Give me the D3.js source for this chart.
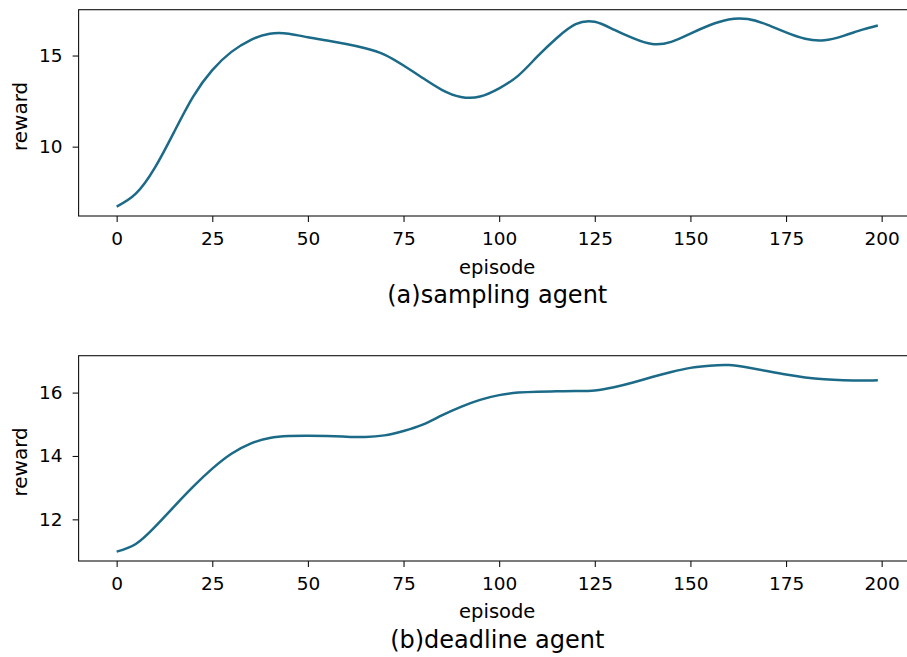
<!DOCTYPE html>
<html>
<head>
<meta charset="utf-8">
<script src="https://cdn.jsdelivr.net/npm/d3@7"></script>
<style>
  html, body { margin: 0; padding: 0; background: #fff; }
  svg { display: block; font-family: "DejaVu Sans", sans-serif; }
</style>
</head>
<body>
<svg id="fig" width="907" height="657"></svg>
<script>
// Episodes at which the smoothed reward curves were sampled
const episodes = [0, 5, 10, 15, 20, 25, 30, 35, 40, 45, 50, 55, 60, 65, 70, 75, 80, 85, 90, 95,
  100, 105, 110, 115, 120, 125, 130, 135, 140, 145, 150, 155, 160, 165, 170, 175, 180, 185, 190, 195, 199];

// (a) sampling agent reward
const samplingReward = [6.71, 7.42, 8.85, 10.8, 12.75, 14.2, 15.2, 15.85, 16.2, 16.2, 16.0, 15.82, 15.63, 15.4, 15.05, 14.45, 13.77, 13.12, 12.73, 12.75,
  13.2, 13.9, 14.95, 15.95, 16.72, 16.85, 16.42, 15.95, 15.63, 15.75, 16.2, 16.66, 16.98, 17.0, 16.7, 16.27, 15.92, 15.84, 16.08, 16.42, 16.65];

// (b) deadline agent reward
const deadlineReward = [10.98, 11.22, 11.76, 12.4, 13.03, 13.6, 14.07, 14.39, 14.57, 14.63, 14.64, 14.63, 14.61, 14.6, 14.65, 14.79, 14.99, 15.28, 15.55, 15.77,
  15.92, 16.0, 16.03, 16.04, 16.05, 16.07, 16.17, 16.32, 16.49, 16.65, 16.78, 16.85, 16.87, 16.79, 16.68, 16.57, 16.48, 16.42, 16.39, 16.38, 16.39];

const xTicks = [0, 25, 50, 75, 100, 125, 150, 175, 200];
const samplingYTicks = [10, 15];
const deadlineYTicks = [12, 14, 16];

const panels = [
  { values: samplingReward, yTicks: samplingYTicks, title: "(a)sampling agent",
    top: 9.7, bottom: 216, xlabelY: 274, titleY: 303 },
  { values: deadlineReward, yTicks: deadlineYTicks, title: "(b)deadline agent",
    top: 355.7, bottom: 561, xlabelY: 618, titleY: 648 }
];

const lineColor = "#1b6a88";
const axisLeft = 78.6, axisRight = 915.9;
const svg = d3.select("#fig");
svg.append("rect").attr("width", 907).attr("height", 657).attr("fill", "#fff");

// x limits padded by 5% of the data span on each side
const xMin = d3.min(episodes), xMax = d3.max(episodes);
const xPad = (xMax - xMin) * 0.05;
const x = d3.scaleLinear().domain([xMin - xPad, xMax + xPad]).range([axisLeft, axisRight]);

panels.forEach(p => {
  const lo = d3.min(p.values), hi = d3.max(p.values);
  const yPad = (hi - lo) * 0.05;
  const y = d3.scaleLinear().domain([lo - yPad, hi + yPad]).range([p.bottom, p.top]);

  const g = svg.append("g");

  // smoothed reward curve
  const pts = episodes.map((e, i) => [e, p.values[i]]);
  g.append("path")
    .datum(pts)
    .attr("fill", "none")
    .attr("stroke", lineColor)
    .attr("stroke-width", 2.5)
    .attr("stroke-linejoin", "round")
    .attr("d", d3.line().x(d => x(d[0])).y(d => y(d[1])).curve(d3.curveNatural));

  // frame
  g.append("rect")
    .attr("x", axisLeft).attr("y", p.top)
    .attr("width", axisRight - axisLeft).attr("height", p.bottom - p.top)
    .attr("fill", "none").attr("stroke", "#111").attr("stroke-width", 1.1);

  // x axis
  const xa = g.append("g").attr("transform", `translate(0,${p.bottom})`)
    .call(d3.axisBottom(x).tickValues(xTicks).tickFormat(d3.format("d")).tickSize(6).tickPadding(10));
  xa.select(".domain").remove();
  xa.selectAll("line").attr("stroke", "#111").attr("stroke-width", 1.1);
  xa.selectAll("text").attr("font-size", 18.5).attr("fill", "#000").attr("font-family", "DejaVu Sans");

  // y axis
  const ya = g.append("g").attr("transform", `translate(${axisLeft},0)`)
    .call(d3.axisLeft(y).tickValues(p.yTicks).tickFormat(d3.format("d")).tickSize(6).tickPadding(10));
  ya.select(".domain").remove();
  ya.selectAll("line").attr("stroke", "#111").attr("stroke-width", 1.1);
  ya.selectAll("text").attr("font-size", 18.5).attr("fill", "#000").attr("font-family", "DejaVu Sans");

  // axis labels
  g.append("text")
    .attr("x", (axisLeft + axisRight) / 2).attr("y", p.xlabelY)
    .attr("text-anchor", "middle").attr("font-size", 19.5).text("episode");
  g.append("text")
    .attr("transform", `translate(26.5,${(p.top + p.bottom) / 2 + 3.5}) rotate(-90)`)
    .attr("text-anchor", "middle").attr("font-size", 20).text("reward");

  // panel caption
  g.append("text")
    .attr("x", (axisLeft + axisRight) / 2).attr("y", p.titleY)
    .attr("text-anchor", "middle").attr("font-size", 24).text(p.title);
});
</script>
</body>
</html>
